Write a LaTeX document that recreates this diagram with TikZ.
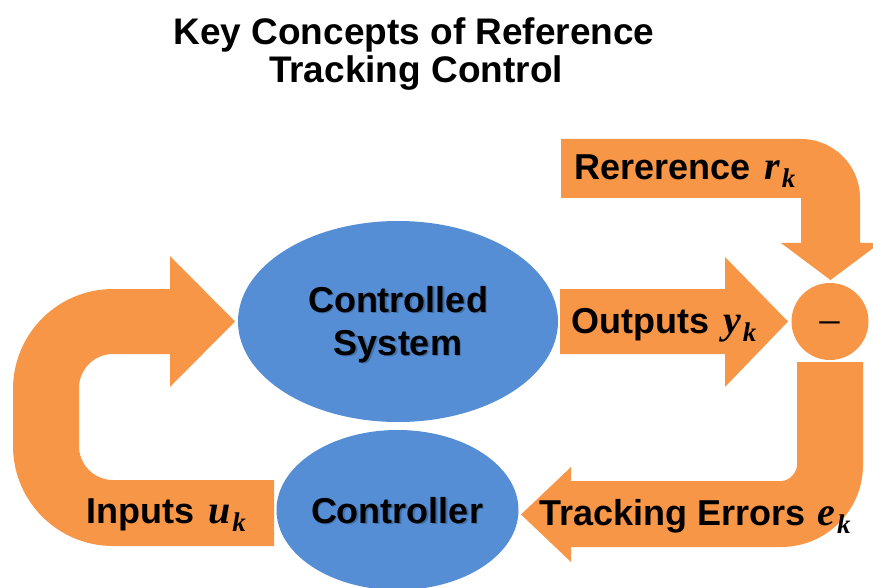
\documentclass[tikz,border=0pt]{standalone}
\usepackage{fontspec}
\setmainfont{Liberation Sans}
\newfontfamily\varfont{Liberation Serif}
\usetikzlibrary{shapes.geometric}

\definecolor{flow}{HTML}{F79646}
\definecolor{block}{HTML}{558ED5}

% signal symbol with its index, e.g. \sig{r} gives r_k
\newcommand{\sig}[1]{{\varfont\bfseries\itshape\fontsize{40}{40}\selectfont #1\hspace{2pt}\raisebox{-8pt}{\fontsize{27}{27}\selectfont k}}}

\tikzset{
  flowshape/.style={fill=flow, draw=none},
  blockshape/.style={ellipse, fill=block, draw=none, inner sep=0pt},
  lbl/.style={font=\fontsize{36}{40}\selectfont\bfseries, inner sep=0pt, text=black},
  shadowtext/.style={lbl, text=black, opacity=0.22},
  titletext/.style={font=\fontsize{37}{40}\selectfont\bfseries, inner sep=0pt, text=black, anchor=base},
}

\begin{document}
\begin{tikzpicture}[x=1pt, y=-1pt]
\useasboundingbox (0,0) rectangle (873,588);

% title
\node[titletext] (title1) at (414,45) {Key Concepts of Reference};
\node[titletext] (title2) at (416,83) {Tracking Control};

% reference signal: bent arrow coming down into the summing junction
\fill[flowshape] (561,139) -- (801,139)
  .. controls (833.6,139) and (860,165.4) .. (860,198)
  -- (860,243) -- (880,243) -- (830.5,280) -- (781,243) -- (801,243)
  -- (801,198) -- (561,198) -- cycle;

% plant output arrow
\fill[flowshape] (560,289) -- (725,289) -- (725,257) -- (788,321.5)
  -- (725,387) -- (725,354) -- (560,354) -- cycle;

% tracking error: down from the junction, then left into the controller
\fill[flowshape] (797,362) -- (863,362) -- (863,465)
  .. controls (863,510.3) and (826.3,547) .. (781,547)
  -- (571,547) -- (571,562) -- (521,514.5) -- (571,467) -- (571,481)
  -- (781,481) .. controls (789.8,481) and (797,472.2) .. (797,465) -- cycle;

% control input: U-turn from the controller back into the plant
\fill[flowshape] (274,480) -- (113,480)
  .. controls (94.2,480) and (79,464.8) .. (79,446)
  -- (79,388) .. controls (79,369.2) and (94.2,354) .. (113,354)
  -- (170,354) -- (170,387) -- (235,321.5) -- (170,256) -- (170,289)
  -- (113,289) .. controls (57.8,289) and (13,333.8) .. (13,389)
  -- (13,446) .. controls (13,501.2) and (57.8,546) .. (113,546)
  -- (274,546) -- cycle;

% summing junction
\node[circle, fill=flow, minimum size=77pt, inner sep=0pt] (sum) at (830,321.5) {};
\node[inner sep=0pt, font=\varfont\fontsize{44}{44}\selectfont] (minus) at ([yshift=-8pt]sum.center) {−};

% blocks
\node[blockshape, minimum width=320pt, minimum height=201pt] (plant) at (398,321.5) {};
\node[blockshape, minimum width=242pt, minimum height=160pt] (ctrl) at (397.5,510) {};

% soft shadows under the block texts
\node[shadowtext, anchor=base] (plant1s) at (399.5,313.5) {Controlled};
\node[shadowtext, anchor=base] (plant2s) at (399.5,356.5) {System};
\node[shadowtext, anchor=base] (ctrltxts) at (398.5,524.5) {Controller};

\node[lbl, anchor=base] (plant1) at (398,312) {Controlled};
\node[lbl, anchor=base] (plant2) at (398,355) {System};
\node[lbl, anchor=base] (ctrltxt) at (397,523) {Controller};

% signal labels
\node[lbl, anchor=base west] (reflbl) at (574,180) {Rererence\hspace{4pt} \sig{r}};
\node[lbl, anchor=base west] (outlbl) at (571,333) {Outputs\hspace{4pt} \sig{y}};
\node[lbl, anchor=base west] (errlbl) at (539,525) {Tracking Errors\hspace{2pt} \sig{e}};
\node[lbl, anchor=base west] (inlbl) at (86,523) {Inputs\hspace{4pt} \sig{u}};
\end{tikzpicture}
\end{document}
